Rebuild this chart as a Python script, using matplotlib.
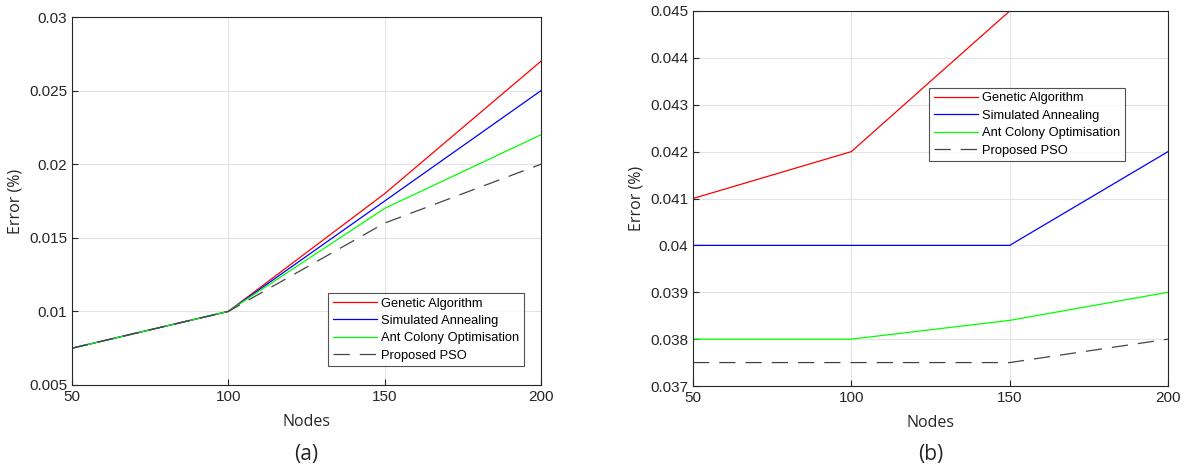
"""Error vs nodes, two panels"""

import matplotlib.pyplot as plt

nodes = [50, 100, 150, 200]
labels = ['Genetic Algorithm', 'Simulated Annealing', 'Ant Colony Optimisation', 'Proposed PSO']

# panel (a)
ga_a = [0.0075, 0.010, 0.018, 0.027]
sa_a = [0.0075, 0.010, 0.0175, 0.025]
aco_a = [0.0075, 0.010, 0.017, 0.022]
pso_a = [0.0075, 0.010, 0.016, 0.020]

# panel (b)
ga_b = [0.041, 0.042, 0.045, 0.045]
sa_b = [0.040, 0.040, 0.040, 0.042]
aco_b = [0.038, 0.038, 0.0384, 0.039]
pso_b = [0.0375, 0.0375, 0.0375, 0.038]

styles = [dict(color='#ff0000'), dict(color='#0000ff'), dict(color='#00ff00'),
          dict(color='#444444', linestyle=(0, (13, 8)))]

plt.rcParams['font.family'] = ['Liberation Sans', 'DejaVu Sans']

fig = plt.figure(figsize=(11.87, 4.70), dpi=100)
ax1 = fig.add_axes([0.0607, 0.1809, 0.3951, 0.7829])
ax2 = fig.add_axes([0.5838, 0.1787, 0.4002, 0.7979])


def setup(ax, series, ylim, yticks, ylabels, legend_anchor, tag):
    for s, lab, st in zip(series, labels, styles):
        ax.plot(nodes, s, linewidth=0.9, label=lab, **st)
    ax.set_xlim(50, 200)
    ax.set_ylim(*ylim)
    ax.set_xticks(nodes)
    ax.set_yticks(yticks)
    ax.set_yticklabels(ylabels)
    ax.grid(True, color='#e3e3e3', linewidth=0.8)
    ax.set_axisbelow(True)
    ax.tick_params(direction='in', length=4, labelsize=11, colors='#262626', width=0.8)
    for sp in ax.spines.values():
        sp.set_color('#262626')
        sp.set_linewidth(0.8)
    ax.set_xlabel('Nodes', fontsize=11.5, family='Open Sans', color='#262626', labelpad=7)
    ax.set_ylabel('Error (%)', fontsize=11.5, family='Open Sans', color='#262626', labelpad=4)
    leg = ax.legend(loc='upper left', bbox_to_anchor=legend_anchor, fontsize=9.3,
                    frameon=True, fancybox=False, edgecolor='#262626',
                    handlelength=3.4, handletextpad=0.35, borderpad=0.35,
                    labelspacing=0.42, borderaxespad=0)
    leg.get_frame().set_linewidth(0.8)
    pos = ax.get_position()
    fig.text((pos.x0 + pos.x1) / 2, 0.032, tag, ha='center', va='center',
             fontsize=15, family='Open Sans', color='#262626')


setup(ax1, [ga_a, sa_a, aco_a, pso_a], (0.005, 0.03),
      [0.005, 0.01, 0.015, 0.02, 0.025, 0.03],
      ['0.005', '0.01', '0.015', '0.02', '0.025', '0.03'], (0.546, 0.25), '(a)')
setup(ax2, [ga_b, sa_b, aco_b, pso_b], (0.037, 0.045),
      [0.037, 0.038, 0.039, 0.04, 0.041, 0.042, 0.043, 0.044, 0.045],
      ['0.037', '0.038', '0.039', '0.04', '0.041', '0.042', '0.043', '0.044', '0.045'],
      (0.497, 0.795), '(b)')

fig.savefig('out.png', dpi=100)
